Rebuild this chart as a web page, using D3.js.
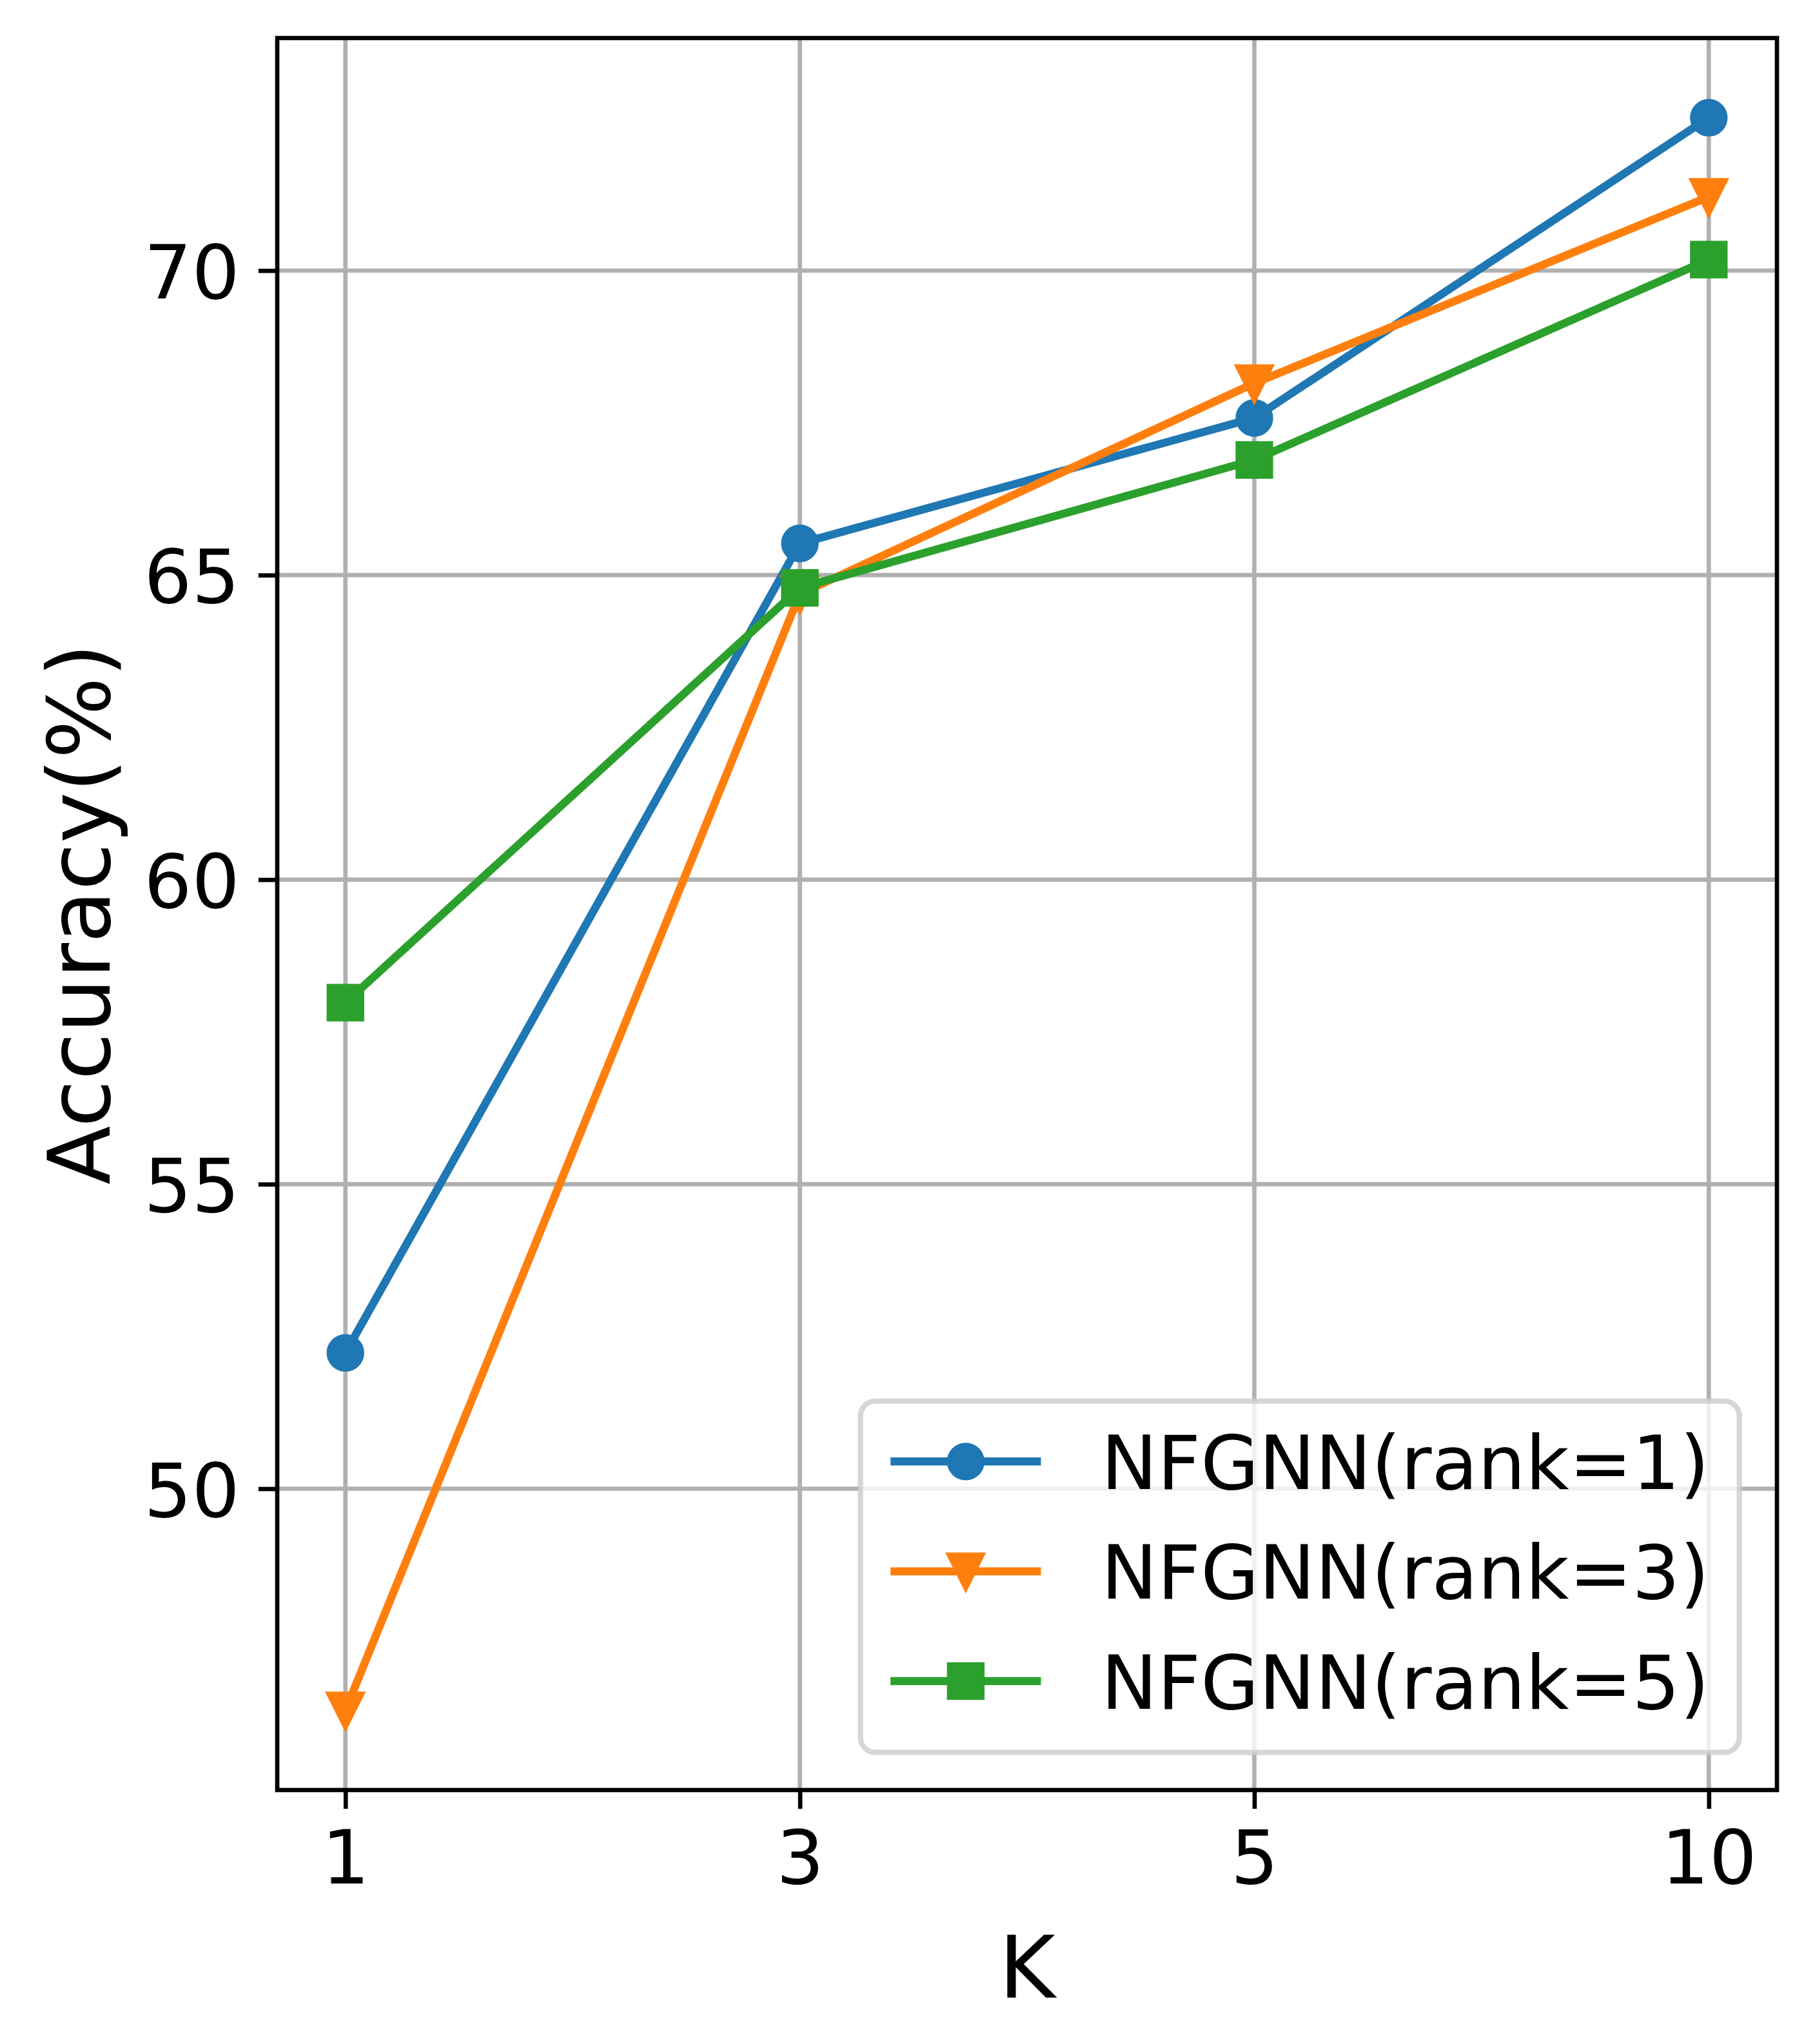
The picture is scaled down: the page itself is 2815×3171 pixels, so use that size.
<!DOCTYPE html>
<html lang="en">
<head>
    <meta charset="UTF-8">
    <title>Accuracy vs K</title>
    <script src="https://d3js.org/d3.v7.min.js"></script>
    <style>
        body {
            margin: 0;
            background: #ffffff;
            overflow: hidden;
        }
        svg text {
            font-family: 'DejaVu Sans', sans-serif;
            fill: #000000;
        }
    </style>
</head>
<body>
    <svg id="chart"></svg>

    <script>
        // data
        const kValues = ["1", "3", "5", "10"];
        const seriesNames = ["NFGNN(rank=1)", "NFGNN(rank=3)", "NFGNN(rank=5)"];
        const rank1 = [52.23, 65.52, 67.58, 72.51];
        const rank3 = [46.36, 64.69, 68.15, 71.21];
        const rank5 = [57.98, 64.79, 66.89, 70.18];
        const yTicks = [50, 55, 60, 65, 70];

        const colors = ["#1f77b4", "#ff7f0e", "#2ca02c"];
        const markers = ["circle", "triangle", "square"];

        const width = 2815;
        const height = 3171;
        const pt = 600 / 72;              // figure was saved at 600 dpi
        const fs = 14 * pt;               // tick / legend font size
        const labelFs = 16 * pt;
        const tickLen = 3.5 * pt;
        const tickPad = 3.5 * pt;

        const plot = { left: 430, right: 2756, top: 59, bottom: 2777 };

        const svg = d3.select("#chart")
                .attr("width", width)
                .attr("height", height);

        const series = [rank1, rank3, rank5].map((vals, i) => ({
            name: seriesNames[i],
            color: colors[i],
            marker: markers[i],
            values: vals.map((v, j) => ({ k: kValues[j], v: v }))
        }));

        // matplotlib style autoscale: 5% margin around data
        const all = [].concat(rank1, rank3, rank5);
        const [lo, hi] = d3.extent(all);
        const m = (hi - lo) * 0.05;

        const x = d3.scalePoint()
                .domain(kValues)
                .range([plot.left, plot.right])
                .padding(0.15);

        const y = d3.scaleLinear()
                .domain([lo - m, hi + m])
                .range([plot.bottom, plot.top]);

        // grid
        const grid = svg.append("g");
        grid.selectAll(".vgrid")
                .data(kValues)
                .enter()
                .append("line")
                .attr("x1", d => x(d)).attr("x2", d => x(d))
                .attr("y1", plot.top).attr("y2", plot.bottom)
                .attr("stroke", "#b0b0b0")
                .attr("stroke-width", 0.8 * pt);
        grid.selectAll(".hgrid")
                .data(yTicks)
                .enter()
                .append("line")
                .attr("x1", plot.left).attr("x2", plot.right)
                .attr("y1", d => y(d)).attr("y2", d => y(d))
                .attr("stroke", "#b0b0b0")
                .attr("stroke-width", 0.8 * pt);

        // lines + markers
        const line = d3.line()
                .x(d => x(d.k))
                .y(d => y(d.v));

        function drawMarker(g, type, cx, cy, color) {
            const r = 3 * pt; // half of markersize 6
            let el;
            if (type === "circle") {
                el = g.append("circle").attr("cx", cx).attr("cy", cy).attr("r", r);
            } else if (type === "square") {
                el = g.append("rect")
                        .attr("x", cx - r).attr("y", cy - r)
                        .attr("width", 2 * r).attr("height", 2 * r);
            } else {
                el = g.append("path")
                        .attr("d", `M${cx},${cy + r}L${cx - r},${cy - r}L${cx + r},${cy - r}Z`);
            }
            el.attr("fill", color)
              .attr("stroke", color)
              .attr("stroke-width", 1 * pt)
              .attr("stroke-linejoin", "miter");
        }

        series.forEach(s => {
            const g = svg.append("g");
            g.append("path")
                    .datum(s.values)
                    .attr("d", line)
                    .attr("fill", "none")
                    .attr("stroke", s.color)
                    .attr("stroke-width", 1.5 * pt)
                    .attr("stroke-linecap", "square")
                    .attr("stroke-linejoin", "round");
            s.values.forEach(d => drawMarker(g, s.marker, x(d.k), y(d.v), s.color));
        });

        // axes
        const xAxis = svg.append("g")
                .attr("transform", `translate(0,${plot.bottom})`)
                .call(d3.axisBottom(x).tickSize(tickLen).tickPadding(tickPad).tickSizeOuter(0));
        const yAxis = svg.append("g")
                .attr("transform", `translate(${plot.left},0)`)
                .call(d3.axisLeft(y).tickValues(yTicks).tickSize(tickLen).tickPadding(tickPad).tickSizeOuter(0));

        [xAxis, yAxis].forEach(a => {
            a.select(".domain").remove();
            a.selectAll(".tick line")
                    .attr("stroke", "#000")
                    .attr("stroke-width", 0.8 * pt);
            a.selectAll(".tick text")
                    .attr("font-size", fs)
                    .attr("fill", "#000");
        });
        // baseline positions like matplotlib (ink top / centre)
        xAxis.selectAll(".tick text")
                .attr("dy", null)
                .attr("y", tickLen + tickPad + 0.74 * fs);
        yAxis.selectAll(".tick text")
                .attr("dy", null)
                .attr("dominant-baseline", "alphabetic")
                .attr("y", 0.365 * fs);

        // spines
        svg.append("rect")
                .attr("x", plot.left).attr("y", plot.top)
                .attr("width", plot.right - plot.left)
                .attr("height", plot.bottom - plot.top)
                .attr("fill", "none")
                .attr("stroke", "#000")
                .attr("stroke-width", 0.8 * pt)
                .attr("stroke-linecap", "square");

        // axis labels
        svg.append("text")
                .attr("x", (plot.left + plot.right) / 2)
                .attr("y", 3099)
                .attr("text-anchor", "middle")
                .attr("font-size", labelFs)
                .text("K");
        svg.append("text")
                .attr("transform", `translate(170,${(plot.top + plot.bottom) / 2}) rotate(-90)`)
                .attr("text-anchor", "middle")
                .attr("font-size", labelFs)
                .text("Accuracy(%)");

        // legend, lower right
        const pad = 0.4 * fs;
        const handleLen = 2 * fs;
        const handleGap = 0.8 * fs;
        const rowStep = 170.3;
        const legend = svg.append("g");
        const frame = legend.append("rect");
        const rows = legend.selectAll(".row")
                .data(series)
                .enter()
                .append("g");
        const texts = rows.append("text")
                .attr("font-size", fs)
                .text(d => d.name);
        const textW = d3.max(texts.nodes(), n => n.getComputedTextLength());

        const legW = 2 * pad + handleLen + handleGap + textW;
        const legH = 545;
        const legRight = plot.right - 0.5 * fs;
        const legBottom = plot.bottom - 0.5 * fs;
        const legLeft = legRight - legW;
        const legTop = legBottom - legH;

        frame.attr("x", legLeft).attr("y", legTop)
                .attr("width", legW).attr("height", legH)
                .attr("rx", 0.2 * fs).attr("ry", 0.2 * fs)
                .attr("fill", "#ffffff")
                .attr("fill-opacity", 0.8)
                .attr("stroke", "#cccccc")
                .attr("stroke-opacity", 0.8)
                .attr("stroke-width", 1 * pt);

        rows.each(function(s, i) {
            const g = d3.select(this);
            const cy = legTop + 93.7 + i * rowStep;
            const hx = legLeft + pad;
            g.append("line")
                    .attr("x1", hx).attr("x2", hx + handleLen)
                    .attr("y1", cy).attr("y2", cy)
                    .attr("stroke", s.color)
                    .attr("stroke-width", 1.5 * pt);
            drawMarker(g, s.marker, hx + handleLen / 2, cy, s.color);
            g.select("text")
                    .attr("x", hx + handleLen + handleGap)
                    .attr("y", cy + 0.365 * fs)
                    .raise();
        });
    </script>
</body>
</html>
